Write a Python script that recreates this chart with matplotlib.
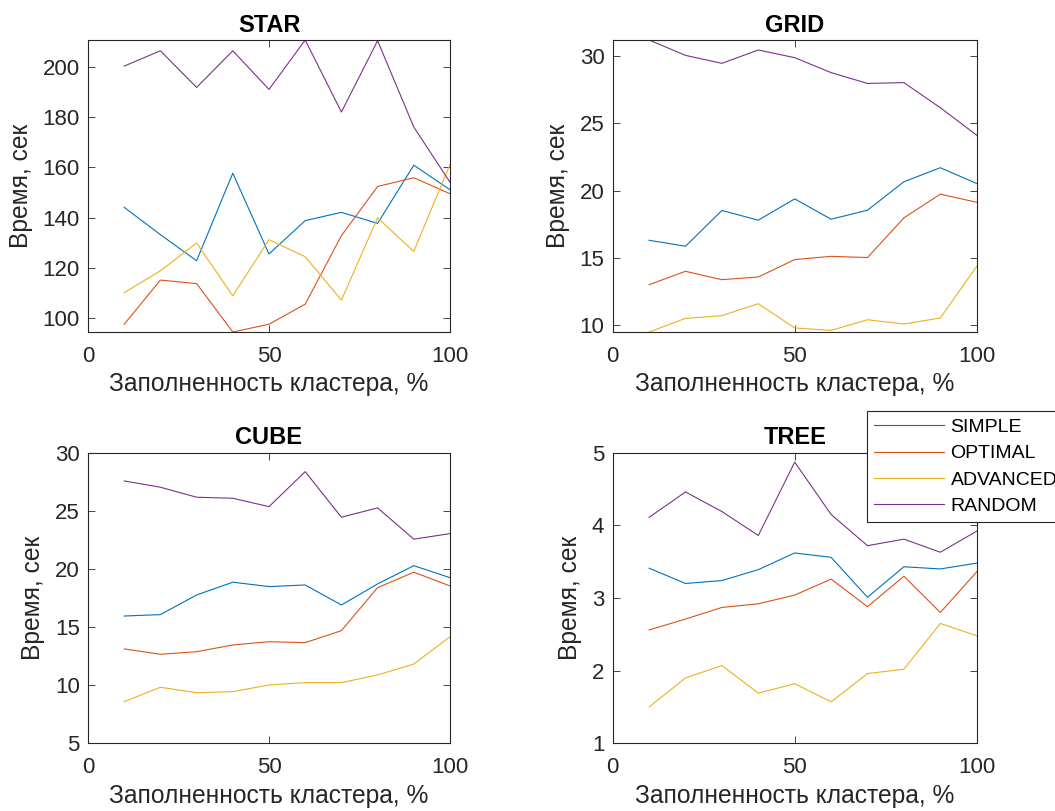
import numpy as np
import matplotlib
matplotlib.use("Agg")
import matplotlib.pyplot as plt

plt.rcParams['font.family'] = ['Liberation Sans', 'DejaVu Sans']

fill = [10, 20, 30, 40, 50, 60, 70, 80, 90, 100]
names = ["SIMPLE", "OPTIMAL", "ADVANCED", "RANDOM"]
colours = ["#0072BD", "#D95319", "#EDB120", "#7E2F8E"]

star_simple = [144.1, 133.2, 122.8, 157.7, 125.5, 138.8, 142.1, 137.7, 160.9, 151.1]
star_optimal = [97.5, 115.1, 113.7, 94.4, 97.5, 105.5, 132.8, 152.4, 155.9, 149.5]
star_advanced = [110.1, 118.8, 129.9, 108.8, 131.2, 124.4, 107.1, 139.9, 126.5, 161.2]
star_random = [200.4, 206.5, 191.9, 206.5, 191.1, 210.8, 182.1, 210.5, 176.1, 154.1]

grid_simple = [16.31, 15.87, 18.52, 17.80, 19.38, 17.87, 18.54, 20.65, 21.69, 20.52]
grid_optimal = [13.02, 14.01, 13.39, 13.59, 14.88, 15.12, 15.03, 17.97, 19.73, 19.13]
grid_advanced = [9.51, 10.52, 10.72, 11.61, 9.81, 9.63, 10.42, 10.10, 10.55, 14.38]
grid_random = [31.16, 30.02, 29.43, 30.42, 29.85, 28.74, 27.94, 28.0, 26.14, 24.1]

cube_simple = [15.95, 16.07, 17.76, 18.86, 18.48, 18.62, 16.90, 18.71, 20.28, 19.25]
cube_optimal = [13.12, 12.66, 12.88, 13.46, 13.74, 13.66, 14.69, 18.39, 19.72, 18.54]
cube_advanced = [8.58, 9.82, 9.35, 9.44, 10.02, 10.22, 10.22, 10.88, 11.82, 14.17]
cube_random = [27.57, 27.03, 26.17, 26.08, 25.36, 28.37, 24.45, 25.25, 22.56, 23.04]

tree_simple = [3.41, 3.20, 3.24, 3.39, 3.62, 3.56, 3.01, 3.43, 3.40, 3.48]
tree_optimal = [2.56, 2.71, 2.87, 2.92, 3.04, 3.26, 2.88, 3.30, 2.80, 3.36]
tree_advanced = [1.50, 1.90, 2.07, 1.69, 1.82, 1.57, 1.96, 2.02, 2.65, 2.48]
tree_random = [4.11, 4.46, 4.19, 3.86, 4.87, 4.15, 3.72, 3.81, 3.63, 3.92]

panels = [
    ("STAR", [star_simple, star_optimal, star_advanced, star_random], None, [100, 120, 140, 160, 180, 200]),
    ("GRID", [grid_simple, grid_optimal, grid_advanced, grid_random], None, [10, 15, 20, 25, 30]),
    ("CUBE", [cube_simple, cube_optimal, cube_advanced, cube_random], (5, 30), [5, 10, 15, 20, 25, 30]),
    ("TREE", [tree_simple, tree_optimal, tree_advanced, tree_random], (1, 5), [1, 2, 3, 4, 5]),
]

W, H = 1055, 811
fig = plt.figure(figsize=(W / 100, H / 100), dpi=100)

# axes boxes in pixels: left, top, right, bottom
boxes = [(88, 40, 450, 332), (612.7, 40, 976.7, 332),
         (88, 452.7, 450, 743.3), (612.7, 452.7, 976.7, 743.3)]

dark = "#262626"
lines = []
for (title, series, ylim, yticks), (l, t, r, b) in zip(panels, boxes):
    ax = fig.add_axes([l / W, 1 - b / H, (r - l) / W, (b - t) / H])
    for vals, c, n in zip(series, colours, names):
        ln, = ax.plot(fill, vals, color=c, lw=0.8, label=n)
        if title == "TREE":
            lines.append(ln)
    ax.set_xlim(0, 100)
    if ylim is None:
        allv = np.concatenate([np.array(s) for s in series])
        ylim = (allv.min(), allv.max())
    ax.set_ylim(*ylim)
    ax.set_xticks([0, 50, 100])
    ax.set_yticks(yticks)
    ax.tick_params(direction="in", length=5, width=0.6, colors=dark,
                   labelsize=16, top=True, right=True)
    ax.tick_params(axis="x", pad=10)
    ax.tick_params(axis="y", pad=6)
    for s in ax.spines.values():
        s.set_color(dark)
        s.set_linewidth(0.8)
    ax.set_title(title, fontsize=17, fontweight="bold", pad=6)
    ax.set_xlabel("Заполненность кластера, %", fontsize=17.7, color=dark, labelpad=4)
    ax.set_ylabel("Время, сек", fontsize=17.7, color=dark, labelpad=7)

leg = fig.legend(lines, names, loc="upper left", bbox_to_anchor=(866.7 / W, 1 - 411 / H),
                 borderaxespad=0, fontsize=14, frameon=True, fancybox=False,
                 framealpha=1, edgecolor=dark, handlelength=3.6, handletextpad=0.33,
                 labelspacing=0.45, borderpad=0.38)
leg.get_frame().set_linewidth(0.8)

fig.savefig("out.png", dpi=100)
